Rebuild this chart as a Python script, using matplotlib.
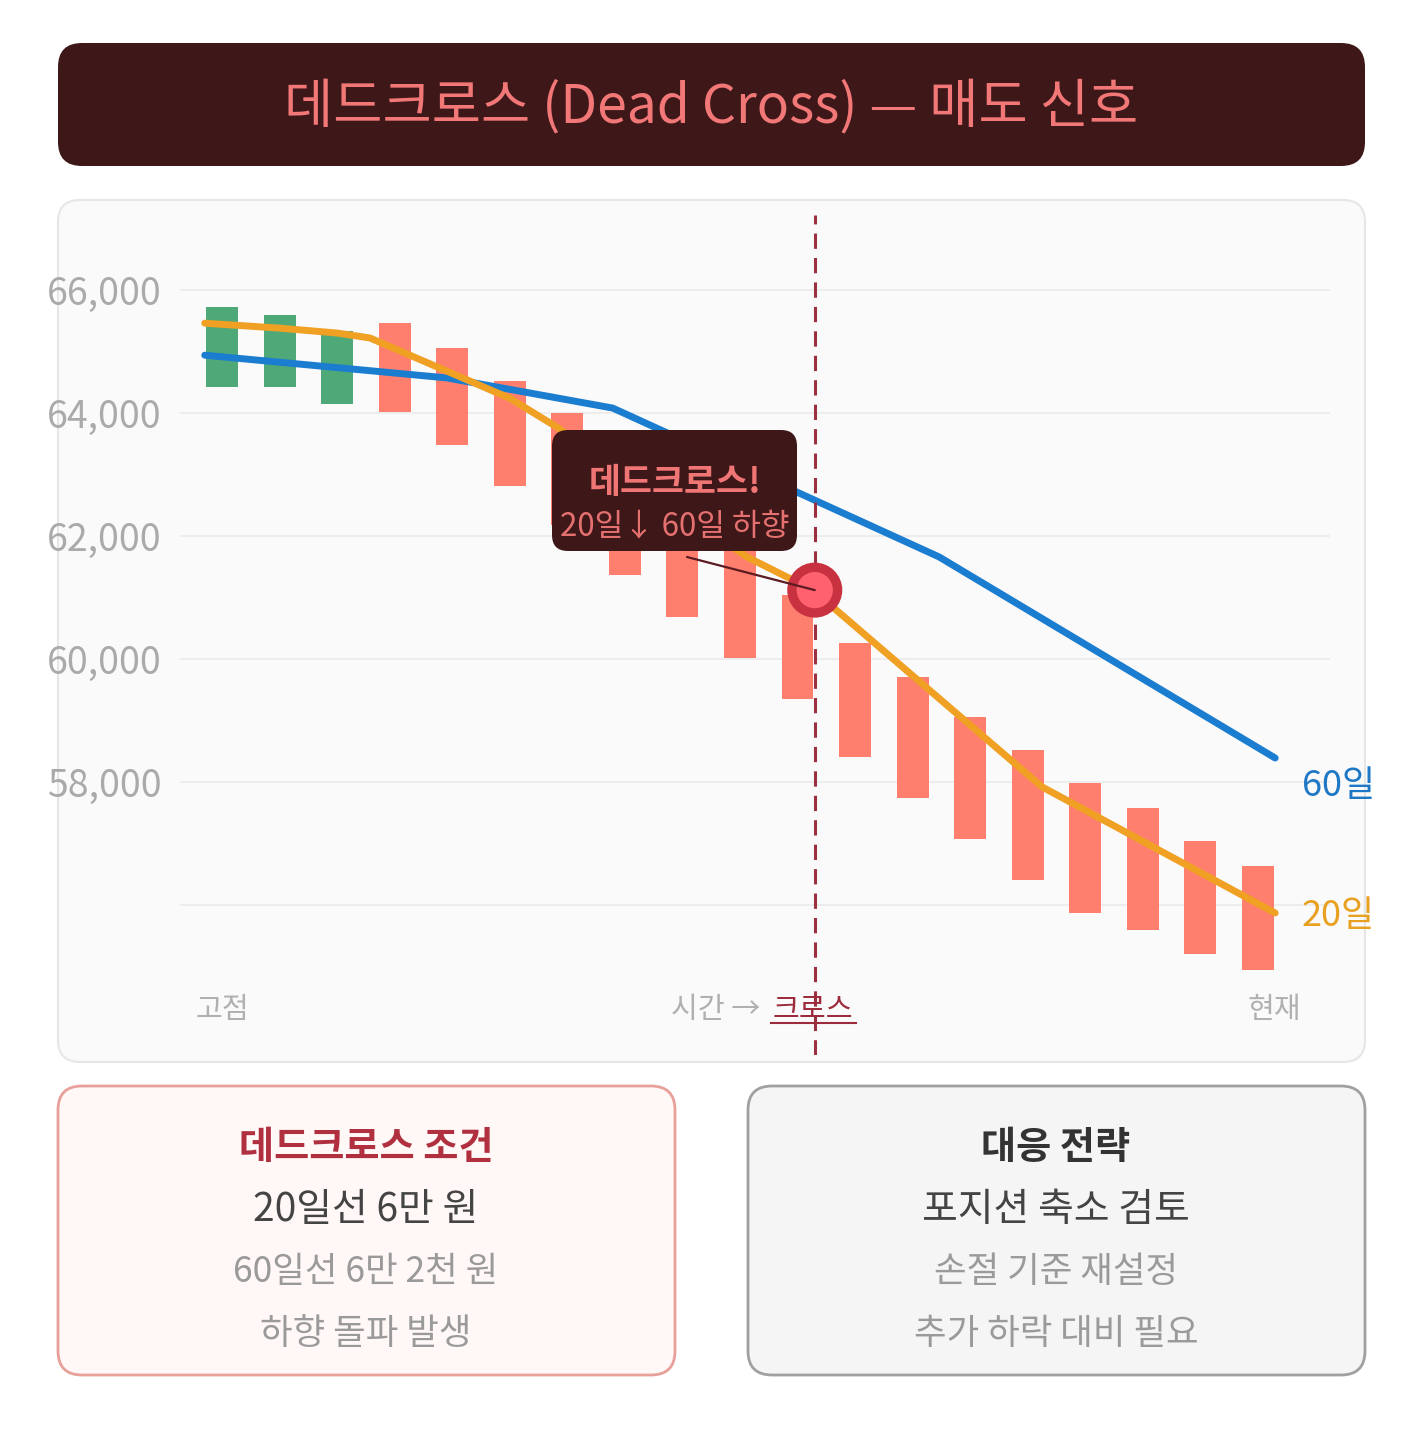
import numpy as np
import matplotlib
matplotlib.use('Agg')
import matplotlib.pyplot as plt
from matplotlib.patches import FancyBboxPatch

plt.rcParams['font.family'] = ['Noto Sans CJK KR', 'DejaVu Sans']

# 캔들 시가 / 종가
opens = [64420, 64420, 64150, 65460, 65060, 64520, 64000, 63150, 62500, 61800,
         61040, 60260, 59710, 59060, 58520, 57980, 57580, 57040, 56630]
closes = [65720, 65590, 65330, 64020, 63480, 62810, 62180, 61370, 60680, 60020,
          59350, 58410, 57740, 57070, 56410, 55870, 55590, 55200, 54940]

# 이동평균선 (캔들 인덱스 기준 x)
ma20_x = [-0.3, 1.0, 2.0, 2.57, 5.0, 5.82, 9.12, 10.27, 14.25, 15.22, 18.3]
ma20 = [65460, 65380, 65300, 65220, 64240, 63770, 61660, 61120, 57920, 57430, 55870]
ma60_x = [-0.3, 3.91, 6.79, 12.46, 18.3]
ma60 = [64940, 64570, 64080, 61660, 58390]

cross_x = 10.3
cross_y = 61120

price_ticks = [56000, 58000, 60000, 62000, 64000, 66000]
price_labels = ['', '58,000', '60,000', '62,000', '64,000', '66,000']

title = '데드크로스 (Dead Cross) — 매도 신호'
tip_title = '데드크로스!'
tip_sub = '20일↓ 60일 하향'
left_lines = ['데드크로스 조건', '20일선 6만 원', '60일선 6만 2천 원', '하향 돌파 발생']
right_lines = ['대응 전략', '포지션 축소 검토', '손절 기준 재설정', '추가 하락 대비 필요']

W, H = 1428, 1440
fig = plt.figure(figsize=(W / 100, H / 100), dpi=100)
fig.patch.set_facecolor('white')

bg = fig.add_axes([0, 0, 1, 1])
bg.set_xlim(0, W)
bg.set_ylim(H, 0)
bg.axis('off')


def box(axis, x0, y0, x1, y1, fc, ec='none', lw=0, r=20):
    axis.add_patch(FancyBboxPatch((x0, y0), x1 - x0, y1 - y0,
                                  boxstyle=f'round,pad=0,rounding_size={r}',
                                  fc=fc, ec=ec, lw=lw))


box(bg, 58, 43, 1365, 166, '#3e1719', r=24)
bg.text(711, 107, title, ha='center', va='center', fontsize=38.5,
        color='#f27777', fontweight='medium')

box(bg, 58, 200, 1365, 1062, '#fafafa', '#e6e6e6', 1.5, r=22)

box(bg, 58, 1086, 675, 1375, '#fff8f7', '#e8a09a', 2, r=24)
box(bg, 748, 1086, 1365, 1375, '#f5f5f5', '#a0a0a0', 2, r=24)

rows_y = [1147, 1210, 1272, 1334]
left_style = [('#b0303f', 'bold', 27.5), ('#444444', 'normal', 28),
              ('#9a9a9a', 'normal', 25.5), ('#9a9a9a', 'normal', 25.5)]
right_style = [('#333333', 'bold', 27.5), ('#444444', 'medium', 28),
               ('#9a9a9a', 'normal', 25.5), ('#9a9a9a', 'normal', 25.5)]
for txt, yy, (c, w, s) in zip(left_lines, rows_y, left_style):
    bg.text(366, yy, txt, ha='center', va='center', color=c, fontweight=w, fontsize=s)
for txt, yy, (c, w, s) in zip(right_lines, rows_y, right_style):
    bg.text(1056, yy, txt, ha='center', va='center', color=c, fontweight=w, fontsize=s)

# 차트 영역 (픽셀 -> 데이터 매핑)
L, R, T, B = 180, 1330, 215, 1055
x_px0, x_step = 222, 57.55
y_px66, px_per_won = 290, 0.0615
ax = fig.add_axes([L / W, 1 - B / H, (R - L) / W, (B - T) / H])
ax.patch.set_alpha(0)
ax.set_xlim((L - x_px0) / x_step, (R - x_px0) / x_step)
ax.set_ylim(66000 - (B - y_px66) / px_per_won, 66000 + (y_px66 - T) / px_per_won)
for sp in ax.spines.values():
    sp.set_visible(False)
ax.set_xticks([])
ax.set_yticks(price_ticks, price_labels)
ax.tick_params(axis='y', length=0, pad=13, labelsize=27, labelcolor='#aaaaaa')
ax.grid(axis='y', color='#ebebeb', lw=1.2)
ax.set_axisbelow(True)

idx = np.arange(len(opens))
o = np.array(opens)
c = np.array(closes)
cols = ['#4fa877' if cc > oo else '#ff7f6e' for oo, cc in zip(o, c)]
ax.bar(idx, np.abs(c - o), bottom=np.minimum(o, c), width=0.556, color=cols, zorder=2)

ax.plot(ma60_x, ma60, color='#1a7dd0', lw=5, solid_capstyle='round',
        solid_joinstyle='round', zorder=3)
ax.plot(ma20_x, ma20, color='#f0a023', lw=5, solid_capstyle='round',
        solid_joinstyle='round', zorder=4)

ax.axvline(cross_x, color='#9a3040', lw=2.2, ls=(0, (5, 3)), zorder=3.5)

ax.scatter([cross_x], [cross_y], s=1570, c='#c8313f', edgecolors='none', zorder=6)
ax.scatter([cross_x], [cross_y], s=680, c='#ff616e', edgecolors='none', zorder=7)
ax.annotate('', xy=(cross_x, cross_y), xytext=(687, 557), textcoords=bg.transData,
            arrowprops=dict(arrowstyle='-', color='#5c1a22', lw=1.6,
                            shrinkA=0, shrinkB=0), zorder=8)

ax.annotate('60일', xy=(ma60_x[-1], ma60[-1]), xytext=(19, -20), textcoords='offset points',
            ha='left', va='center', fontsize=26, color='#1f78c6', fontweight='medium')
ax.annotate('20일', xy=(ma20_x[-1], ma20[-1]), xytext=(19, -2), textcoords='offset points',
            ha='left', va='center', fontsize=26, color='#e8a020', fontweight='medium')

# 위쪽 레이어: 툴팁, x축 라벨
top = fig.add_axes([0, 0, 1, 1], zorder=5)
top.set_xlim(0, W)
top.set_ylim(H, 0)
top.axis('off')
box(top, 552, 430, 797, 551, '#3e1719', r=16)
top.text(675, 483, tip_title, ha='center', va='center', fontsize=25,
         color='#f07575', fontweight='bold')
top.text(675, 527, tip_sub, ha='center', va='center', fontsize=22.5, color='#e57070')

top.text(222, 1010, '고점', ha='center', va='center', fontsize=21, color='#b0b0b0')
top.text(760, 1010, '시간 →', ha='right', va='center', fontsize=21, color='#b0b0b0')
top.text(813, 1010, '크로스', ha='center', va='center', fontsize=21, color='#9c2c3c')
top.plot([771, 856], [1023, 1023], color='#9c2c3c', lw=1.5)
top.text(1274, 1010, '현재', ha='center', va='center', fontsize=21, color='#b0b0b0')

fig.savefig('out.png', dpi=100)
